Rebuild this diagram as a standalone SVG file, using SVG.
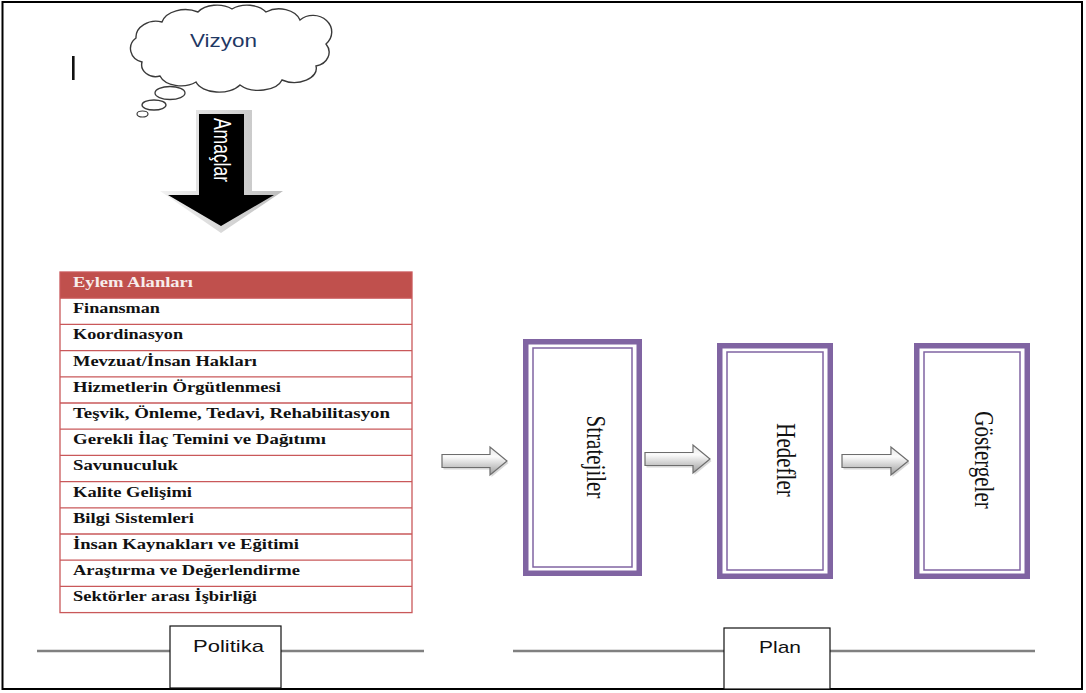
<svg xmlns="http://www.w3.org/2000/svg" width="1086" height="693" viewBox="0 0 1086 693">
<style>
.rowtxt{font-family:"Liberation Serif","Times New Roman",serif;font-weight:bold;font-size:15px;fill:#111}
.hdrtxt{font-family:"Liberation Serif","Times New Roman",serif;font-weight:bold;font-size:15px;fill:#F7ECEC}
.rline{stroke:#C9585A;stroke-width:1.3;fill:none}
.pout{fill:#fff;stroke:#8064A2;stroke-width:5.5}
.pin{fill:none;stroke:#8064A2;stroke-width:1.5}
.vtxt{font-family:"Liberation Serif","Times New Roman",serif;font-size:21px;fill:#111}
.sans{font-family:"Liberation Sans",Arial,sans-serif}
.gline{stroke:#808080;stroke-width:2.5}
.lbox{fill:#fff;stroke:#111;stroke-width:1.2}
</style>
<defs>
<linearGradient id="ga" x1="0" y1="0" x2="0" y2="1">
<stop offset="0" stop-color="#e6e6e6"/>
<stop offset="0.35" stop-color="#fbfbfb"/>
<stop offset="1" stop-color="#9c9c9c"/>
</linearGradient>
<linearGradient id="gd" x1="0" y1="0" x2="1" y2="0">
<stop offset="0" stop-color="#f2f2f2"/>
<stop offset="0.5" stop-color="#d9d9d9"/>
<stop offset="1" stop-color="#bdbdbd"/>
</linearGradient>
<path id="blk" d="M0,-6.5 H48 V-14 L65,0 L48,14 V6.5 H0 Z"/>
</defs>
<rect x="0" y="0" width="1086" height="693" fill="#fff"/>
<rect x="2.5" y="2" width="1079.5" height="687" fill="none" stroke="#000" stroke-width="2"/>

<g id="cursor"><rect x="72" y="56" width="2.6" height="24" fill="#111"/></g>

<g id="vizyon">
<path d="M142 62 A16 14 0 0 1 136 38 A20 16 0 0 1 162 22 A24 16 0 0 1 198 12 A22 14 0 0 1 232 9 A22 14 0 0 1 266 12 A22 16 0 0 1 300 20 A18 16 0 0 1 326 44 A16 14 0 0 1 316 66 A22 14 0 0 1 282 80 A24 14 0 0 1 240 85 A24 14 0 0 1 196 82 A22 14 0 0 1 160 76 A14 12 0 0 1 142 62 Z" fill="#fff" stroke="#3a3a3a" stroke-width="1.4"/>
<ellipse cx="170" cy="93" rx="15" ry="6.5" fill="#fff" stroke="#3a3a3a" stroke-width="1.3"/>
<ellipse cx="154" cy="105" rx="12" ry="5" fill="#fff" stroke="#3a3a3a" stroke-width="1.3"/>
<ellipse cx="142.5" cy="114" rx="5.5" ry="3" fill="#fff" stroke="#3a3a3a" stroke-width="1.2"/>
<text class="sans" x="190" y="47" font-size="18" fill="#1F3864" textLength="67" lengthAdjust="spacingAndGlyphs">Vizyon</text>
</g>

<g id="amaclar">
<polygon points="196,110 252,110 252,191 283,191 221,233 160,191 196,191" fill="url(#gd)"/>
<polygon points="199,114 244,114 244,195 274,195 221,226 168,195 199,195" fill="#000"/>
<text class="sans" font-size="17.5" fill="#fff" text-anchor="middle" transform="translate(214,150) scale(1.4,1) rotate(90)">Amaçlar</text>
</g>

<g id="eylem-alanlari">
<rect x="60" y="272" width="352" height="340.6" fill="#fff"/>
<rect x="60" y="272" width="352" height="26.2" fill="#C0504D"/>
<g class="rline">
<rect x="60" y="272" width="352" height="340.6"/>
<line x1="60" y1="298.2" x2="412" y2="298.2"/>
<line x1="60" y1="324.4" x2="412" y2="324.4"/>
<line x1="60" y1="350.6" x2="412" y2="350.6"/>
<line x1="60" y1="376.8" x2="412" y2="376.8"/>
<line x1="60" y1="403" x2="412" y2="403"/>
<line x1="60" y1="429.2" x2="412" y2="429.2"/>
<line x1="60" y1="455.4" x2="412" y2="455.4"/>
<line x1="60" y1="481.6" x2="412" y2="481.6"/>
<line x1="60" y1="507.8" x2="412" y2="507.8"/>
<line x1="60" y1="534" x2="412" y2="534"/>
<line x1="60" y1="560.2" x2="412" y2="560.2"/>
<line x1="60" y1="586.4" x2="412" y2="586.4"/>
</g>
<text class="hdrtxt" x="73" y="287" textLength="120" lengthAdjust="spacingAndGlyphs">Eylem Alanları</text>
<text class="rowtxt" x="73" y="313.2" textLength="87" lengthAdjust="spacingAndGlyphs">Finansman</text>
<text class="rowtxt" x="73" y="339.4" textLength="110" lengthAdjust="spacingAndGlyphs">Koordinasyon</text>
<text class="rowtxt" x="73" y="365.6" textLength="184" lengthAdjust="spacingAndGlyphs">Mevzuat/İnsan Hakları</text>
<text class="rowtxt" x="73" y="391.8" textLength="208" lengthAdjust="spacingAndGlyphs">Hizmetlerin Örgütlenmesi</text>
<text class="rowtxt" x="73" y="418" textLength="317" lengthAdjust="spacingAndGlyphs">Teşvik, Önleme, Tedavi, Rehabilitasyon</text>
<text class="rowtxt" x="73" y="444.2" textLength="253" lengthAdjust="spacingAndGlyphs">Gerekli İlaç Temini ve Dağıtımı</text>
<text class="rowtxt" x="73" y="470.4" textLength="105" lengthAdjust="spacingAndGlyphs">Savunuculuk</text>
<text class="rowtxt" x="73" y="496.6" textLength="119" lengthAdjust="spacingAndGlyphs">Kalite Gelişimi</text>
<text class="rowtxt" x="73" y="522.8" textLength="121" lengthAdjust="spacingAndGlyphs">Bilgi Sistemleri</text>
<text class="rowtxt" x="73" y="549" textLength="226" lengthAdjust="spacingAndGlyphs">İnsan Kaynakları ve Eğitimi</text>
<text class="rowtxt" x="73" y="575.2" textLength="227" lengthAdjust="spacingAndGlyphs">Araştırma ve Değerlendirme</text>
<text class="rowtxt" x="73" y="601.4" textLength="184" lengthAdjust="spacingAndGlyphs">Sektörler arası İşbirliği</text>
</g>

<g id="stratejiler">
<rect class="pout" x="525.75" y="341.75" width="113.5" height="231.5"/>
<rect class="pin" x="533" y="348" width="99" height="219"/>
<text class="vtxt" text-anchor="middle" transform="translate(587,457) scale(1.3,1) rotate(90)">Stratejiler</text>
</g>

<g id="hedefler">
<rect class="pout" x="719.75" y="345.75" width="110.5" height="230.5"/>
<rect class="pin" x="727" y="352" width="96" height="218"/>
<text class="vtxt" text-anchor="middle" transform="translate(777,460) scale(1.3,1) rotate(90)">Hedefler</text>
</g>

<g id="gostergeler">
<rect class="pout" x="916.75" y="345.75" width="110.5" height="230.5"/>
<rect class="pin" x="924" y="352" width="96" height="218"/>
<text class="vtxt" text-anchor="middle" transform="translate(975,460) scale(1.3,1) rotate(90)">Göstergeler</text>
</g>

<g id="connectors">
<use href="#blk" transform="translate(443.5,463)" fill="#bdbdbd" opacity="0.6"/>
<use href="#blk" transform="translate(442,461)" fill="url(#ga)" stroke="#6d6d6d" stroke-width="1.2"/>
<use href="#blk" transform="translate(646.5,461)" fill="#bdbdbd" opacity="0.6"/>
<use href="#blk" transform="translate(645,459)" fill="url(#ga)" stroke="#6d6d6d" stroke-width="1.2"/>
<use href="#blk" transform="translate(843.5,463) scale(1.02,1)" fill="#bdbdbd" opacity="0.6"/>
<use href="#blk" transform="translate(842,461) scale(1.02,1)" fill="url(#ga)" stroke="#6d6d6d" stroke-width="1.2"/>
<line class="gline" x1="37" y1="651" x2="424" y2="651"/>
<line class="gline" x1="513" y1="651" x2="1035" y2="651"/>
</g>

<g id="politika">
<rect class="lbox" x="170" y="626" width="111" height="62"/>
<text class="sans" x="193" y="652" font-size="17" fill="#111" textLength="71" lengthAdjust="spacingAndGlyphs">Politika</text>
</g>

<g id="plan">
<rect class="lbox" x="724" y="628" width="106" height="61"/>
<text class="sans" x="759" y="653" font-size="17" fill="#111" textLength="42" lengthAdjust="spacingAndGlyphs">Plan</text>
</g>
</svg>
